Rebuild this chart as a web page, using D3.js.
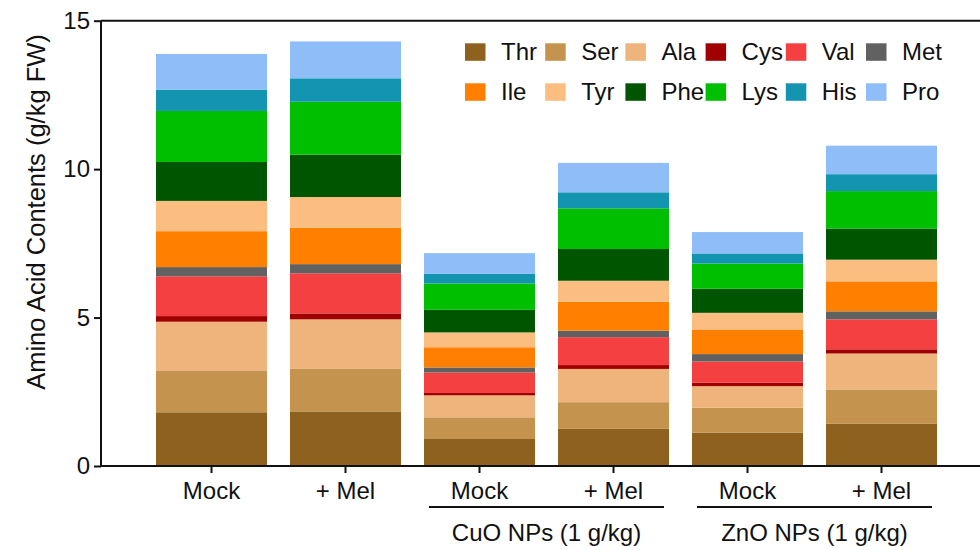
<!DOCTYPE html>
<html>
<head>
<meta charset="utf-8">
<script src="https://cdn.jsdelivr.net/npm/d3@7"></script>
<style>
  html, body { margin: 0; padding: 0; background: #fff; }
  svg text { font-family: "Liberation Sans", Arial, Helvetica, sans-serif; fill: #111; }
</style>
</head>
<body>
<svg id="chart" width="980" height="550"></svg>
<script>
// Treatments (one stacked bar each) and their tick labels
const barKeys = ["Mock", "+ Mel", "CuO Mock", "CuO + Mel", "ZnO Mock", "ZnO + Mel"];
const tickLabels = ["Mock", "+ Mel", "Mock", "+ Mel", "Mock", "+ Mel"];

// Nanoparticle groups spanning pairs of bars
const groupLabels = ["CuO NPs (1 g/kg)", "ZnO NPs (1 g/kg)"];
const groupFirst = [2, 4];
const groupLast = [3, 5];

// Amino acids, stacked bottom to top
const aminoAcids = ["Thr", "Ser", "Ala", "Cys", "Val", "Met", "Ile", "Tyr", "Phe", "Lys", "His", "Pro"];

// Contents (g/kg FW) per amino acid, in barKeys order
const Thr = [1.81, 1.84, 0.91, 1.25, 1.12, 1.42];
const Ser = [1.41, 1.43, 0.73, 0.90, 0.84, 1.16];
const Ala = [1.64, 1.67, 0.74, 1.12, 0.73, 1.21];
const Cys = [0.19, 0.20, 0.08, 0.13, 0.12, 0.14];
const Val = [1.34, 1.35, 0.69, 0.94, 0.71, 1.01];
const Met = [0.31, 0.31, 0.17, 0.22, 0.25, 0.27];
const Ile = [1.21, 1.23, 0.68, 0.97, 0.83, 1.01];
const Tyr = [1.02, 1.03, 0.50, 0.71, 0.56, 0.73];
const Phe = [1.31, 1.43, 0.76, 1.07, 0.81, 1.05];
const Lys = [1.72, 1.78, 0.89, 1.37, 0.85, 1.26];
const His = [0.72, 0.79, 0.33, 0.54, 0.34, 0.57];
const Pro = [1.20, 1.24, 0.69, 0.99, 0.72, 0.96];

const yTicks = [0, 5, 10, 15];

const colors = ["#8E611F", "#C4944F", "#EEB47C", "#A10000", "#F44040", "#616161",
                "#FF8000", "#FCBE80", "#005600", "#00BF00", "#1395B2", "#8EBDF7"];

const seriesByName = { Thr, Ser, Ala, Cys, Val, Met, Ile, Tyr, Phe, Lys, His, Pro };

// Rows for d3.stack
const rows = barKeys.map((k, i) => {
  const r = { key: k };
  aminoAcids.forEach(a => { r[a] = seriesByName[a][i]; });
  return r;
});

const svg = d3.select("#chart");

const plotLeft = 101, plotRight = 980, plotTop = 20.7, plotBottom = 466;

const x = d3.scaleBand()
  .domain(barKeys)
  .range([144.5, 948.5])
  .paddingInner(0.1716)
  .paddingOuter(0.0858);

const y = d3.scaleLinear().domain([0, 15]).range([plotBottom, plotTop]);

const color = d3.scaleOrdinal().domain(aminoAcids).range(colors);

const stacked = d3.stack().keys(aminoAcids)(rows);

// Stacked bars
svg.append("g")
  .selectAll("g")
  .data(stacked)
  .join("g")
  .attr("fill", d => color(d.key))
  .selectAll("rect")
  .data(d => d)
  .join("rect")
  .attr("x", d => x(d.data.key))
  .attr("width", x.bandwidth())
  .attr("y", d => y(d[1]))
  .attr("height", d => y(d[0]) - y(d[1]));

// Y axis
const yAxis = svg.append("g")
  .attr("transform", `translate(${plotLeft},0)`)
  .call(d3.axisLeft(y).tickValues(yTicks).tickSize(7).tickPadding(4).tickFormat(d3.format("d")));
yAxis.select(".domain").attr("stroke", "#111").attr("stroke-width", 2).attr("d", `M0,${plotTop}V${plotBottom}`);
yAxis.selectAll(".tick line").attr("stroke", "#111").attr("stroke-width", 2);
yAxis.selectAll(".tick text").attr("font-size", 24).attr("fill", "#111").attr("font-family", "Liberation Sans, Arial, sans-serif");

// Top frame line
svg.append("line")
  .attr("x1", plotLeft).attr("x2", plotRight)
  .attr("y1", plotTop).attr("y2", plotTop)
  .attr("stroke", "#111").attr("stroke-width", 2);

// X axis
const xAxis = svg.append("g")
  .attr("transform", `translate(0,${plotBottom})`)
  .call(d3.axisBottom(x).tickSize(7).tickFormat((d, i) => tickLabels[i]).tickPadding(9));
xAxis.select(".domain").attr("stroke", "#111").attr("stroke-width", 2).attr("d", `M${plotLeft},0H${plotRight}`);
xAxis.selectAll(".tick line").attr("stroke", "#111").attr("stroke-width", 2);
xAxis.selectAll(".tick text").attr("font-size", 24).attr("fill", "#111").attr("font-family", "Liberation Sans, Arial, sans-serif");

// Group underlines and labels
groupLabels.forEach((label, g) => {
  const x0 = x(barKeys[groupFirst[g]]) + 5;
  const x1 = x(barKeys[groupLast[g]]) + x.bandwidth() - 5;
  svg.append("line")
    .attr("x1", x0).attr("x2", x1)
    .attr("y1", 507).attr("y2", 507)
    .attr("stroke", "#111").attr("stroke-width", 2);
  svg.append("text")
    .attr("x", (x0 + x1) / 2)
    .attr("y", 541)
    .attr("text-anchor", "middle")
    .attr("font-size", 24)
    .text(label);
});

// Y axis title
svg.append("text")
  .attr("transform", `translate(45,212) rotate(-90)`)
  .attr("text-anchor", "middle")
  .attr("font-size", 25.5)
  .text("Amino Acid Contents (g/kg FW)");

// Legend: two rows of six
const legend = svg.append("g");
const legendX0 = 465, legendDX = 80.2, legendY0 = 43.3, legendDY = 40;
aminoAcids.forEach((a, i) => {
  const col = i % 6, row = Math.floor(i / 6);
  const gx = legendX0 + col * legendDX, gy = legendY0 + row * legendDY;
  legend.append("rect")
    .attr("x", gx).attr("y", gy)
    .attr("width", 20.5).attr("height", 17.5)
    .attr("fill", color(a));
  legend.append("text")
    .attr("x", gx + 36).attr("y", gy + 17)
    .attr("font-size", 24)
    .text(a);
});
</script>
</body>
</html>
